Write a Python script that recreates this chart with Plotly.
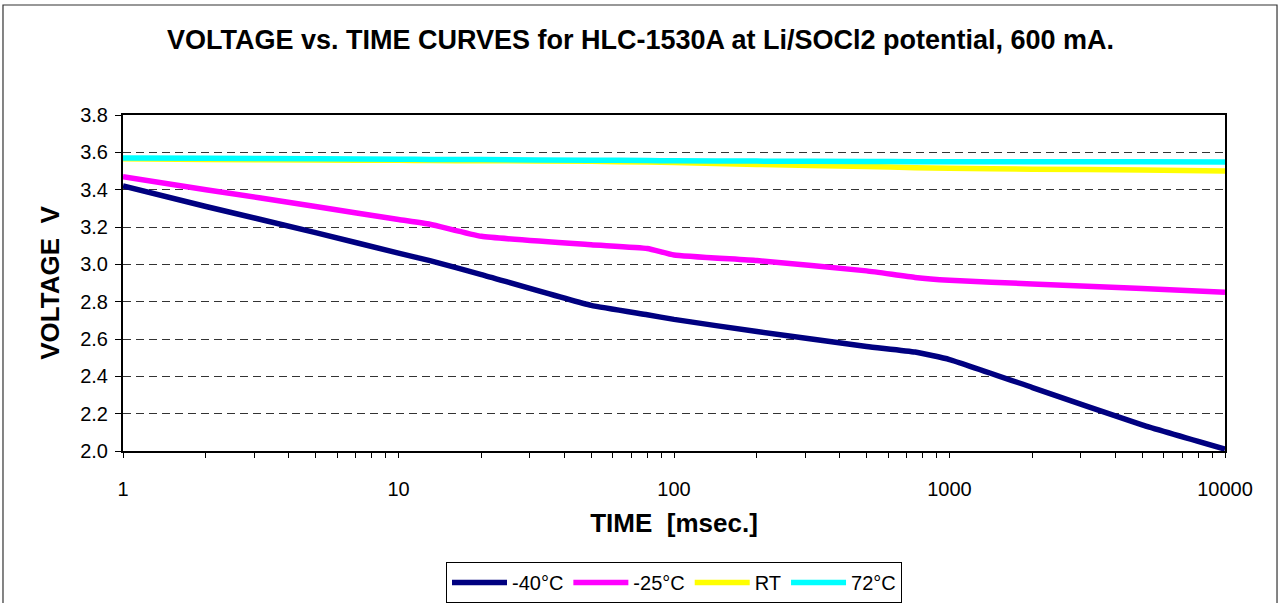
import plotly.graph_objects as go

# ---- data ----
time_ms = [1, 2, 5, 10, 13, 20, 50, 80, 100, 200, 500, 750, 1000, 2000, 5000, 10000]

v_m40 = [3.42, 3.31, 3.17, 3.06, 3.02, 2.945, 2.78, 2.73, 2.705, 2.64, 2.56, 2.53, 2.49, 2.34, 2.14, 2.01]
v_m25 = [3.47, 3.40, 3.31, 3.24, 3.215, 3.15, 3.105, 3.085, 3.05, 3.02, 2.965, 2.93, 2.915, 2.895, 2.87, 2.85]
v_rt = [3.565, 3.562, 3.559, 3.557, 3.556, 3.555, 3.552, 3.548, 3.545, 3.535, 3.524, 3.518, 3.515, 3.51, 3.505, 3.50]
v_72 = [3.57, 3.568, 3.565, 3.563, 3.562, 3.561, 3.558, 3.556, 3.555, 3.553, 3.551, 3.55, 3.55, 3.549, 3.549, 3.548]

series_names = ["-40°C", "-25°C", "RT", "72°C"]
series_values = [v_m40, v_m25, v_rt, v_72]
series_colors = ["#000080", "#FF00FF", "#FFFF00", "#00FFFF"]

x_tickvals = [1, 10, 100, 1000, 10000]
x_ticktext = ["1", "10", "100", "1000", "10000"]
x_minor_tickvals = [m * d for d in (1, 10, 100, 1000) for m in range(2, 10)]

FONT = "Arial, 'Liberation Sans', sans-serif"

fig = go.Figure()
for name, vals, col in zip(series_names, series_values, series_colors):
    fig.add_trace(go.Scatter(
        x=time_ms, y=vals, name=name, mode="lines",
        line=dict(color=col, width=5.5, shape="spline", smoothing=0.4),
    ))

fig.update_layout(
    width=1281, height=603, autosize=False,
    margin=dict(l=123, r=56, t=115, b=152, autoexpand=False),
    paper_bgcolor="white", plot_bgcolor="white",
    font=dict(family=FONT, color="black", size=20),
    title=dict(
        text="<b>VOLTAGE vs. TIME CURVES for HLC-1530A at Li/SOCl2 potential, 600 mA.</b>",
        x=0.5, xref="container", xanchor="center",
        y=1 - 40 / 603, yref="container", yanchor="middle",
        font=dict(family=FONT, size=27, color="black"),
    ),
    showlegend=True,
    legend=dict(
        orientation="h", x=0.5, xanchor="center",
        yref="container", y=1 - 562 / 603, yanchor="top",
        bgcolor="white", bordercolor="black", borderwidth=1,
        font=dict(family=FONT, size=20, color="black"),
        itemwidth=55, tracegroupgap=0,
    ),
    shapes=[dict(
        type="rect", xref="paper", yref="paper",
        x0=-0.1089, x1=1.0472, y0=-0.47, y1=1.3274,
        line=dict(color="#333333", width=1.2), fillcolor="rgba(0,0,0,0)",
        layer="below",
    )],
)

fig.update_xaxes(
    type="log", range=[0, 4], automargin=False,
    tickmode="array", tickvals=x_tickvals, ticktext=x_ticktext,
    showline=True, linecolor="black", linewidth=2, mirror=True,
    ticks="outside", ticklen=5, tickcolor="black", tickwidth=1,
    minor=dict(tickmode="array", tickvals=x_minor_tickvals,
               ticks="outside", ticklen=5, tickcolor="black", tickwidth=1, showgrid=False),
    showgrid=False, zeroline=False,
    tickfont=dict(family=FONT, size=20, color="black"),
    ticklabelstandoff=14,
    title=dict(text="<b>TIME  [msec.]</b>", font=dict(family=FONT, size=26, color="black"), standoff=15),
)

fig.update_yaxes(
    range=[2.0, 3.8], dtick=0.2, tick0=2.0, tickformat=".1f", automargin=False,
    showline=True, linecolor="black", linewidth=2, mirror=True,
    ticks="outside", ticklen=6, tickcolor="black", tickwidth=1,
    showgrid=True, gridcolor="#333333", gridwidth=1, griddash="8px,5px",
    zeroline=False,
    tickfont=dict(family=FONT, size=20, color="black"),
    ticklabelstandoff=3,
    title=dict(text="<b>VOLTAGE  V</b>", font=dict(family=FONT, size=26, color="black"), standoff=13),
)

fig.write_html(
    "out.html",
    config={"displayModeBar": False},
    post_script="document.body.style.margin='0';document.body.style.overflow='hidden';",
)
